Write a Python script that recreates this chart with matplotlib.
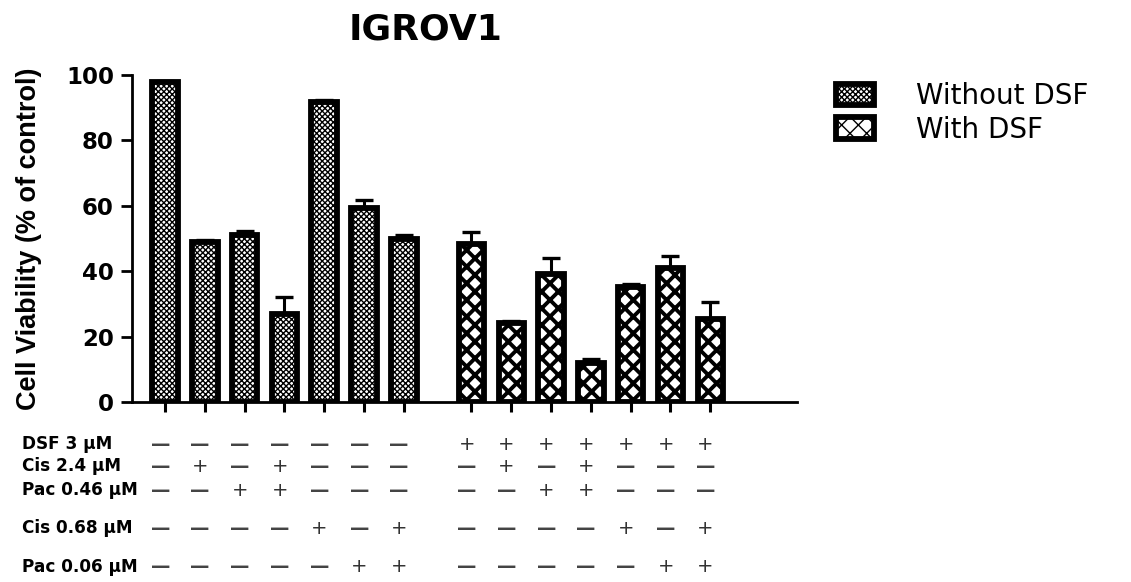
import numpy as np
import matplotlib
matplotlib.use("Agg")
import matplotlib.pyplot as plt
from matplotlib.transforms import blended_transform_factory

# values
without_dsf = [97.8, 49.0, 51.2, 27.0, 91.8, 59.4, 49.8]
without_err = [0.5, 0.6, 1.0, 5.0, 0.7, 2.4, 1.2]
with_dsf = [48.3, 24.3, 39.0, 12.0, 35.2, 41.0, 25.5]
with_err = [3.8, 0.6, 5.0, 1.0, 1.0, 3.5, 5.0]

treatments = ["DSF 3 \u03bcM", "Cis 2.4 \u03bcM", "Pac 0.46 \u03bcM", "Cis 0.68 \u03bcM", "Pac 0.06 \u03bcM"]
dsf_3 = "-------" + "+++++++"
cis_24 = "-+-+---" + "-+-+---"
pac_046 = "--++---" + "--++---"
cis_068 = "----+-+" + "----+-+"
pac_006 = "-----++" + "-----++"
table = [dsf_3, cis_24, pac_046, cis_068, pac_006]


def main():
    fig = plt.figure(figsize=(11.31, 5.82), dpi=100)
    ax = fig.add_axes([132 / 1131, 1 - 402 / 582, 665 / 1131, 327 / 582])

    x1 = np.arange(7)
    x2 = np.arange(7) + 7.7
    width = 0.64

    b1 = ax.bar(x1, without_dsf, width, color="white", edgecolor="black",
                linewidth=4.2, hatch="xxxxxx", label="Without DSF", zorder=2)
    b2 = ax.bar(x2, with_dsf, width, color="white", edgecolor="black",
                linewidth=4.2, hatch="xx", label="With DSF", zorder=2)
    for p in b1:
        if hasattr(p, "set_hatch_linewidth"):
            p.set_hatch_linewidth(1.0)
    for p in b2:
        if hasattr(p, "set_hatch_linewidth"):
            p.set_hatch_linewidth(2.8)

    ax.errorbar(x1, without_dsf, yerr=[np.zeros(7), without_err], fmt="none",
                ecolor="black", elinewidth=2.2, capsize=6.5, capthick=2.4, zorder=1)
    ax.errorbar(x2, with_dsf, yerr=[np.zeros(7), with_err], fmt="none",
                ecolor="black", elinewidth=2.2, capsize=6.5, capthick=2.4, zorder=1)

    ax.set_xlim(-0.83, 15.88)
    ax.set_ylim(0, 100)
    ax.set_yticks([0, 20, 40, 60, 80, 100])
    ax.set_xticks(np.concatenate([x1, x2]))
    ax.set_xticklabels([])
    ax.spines["top"].set_visible(False)
    ax.spines["right"].set_visible(False)
    ax.spines["left"].set_linewidth(2.0)
    ax.spines["bottom"].set_linewidth(2.0)
    ax.tick_params(axis="y", length=8, width=2.0, pad=5)
    ax.tick_params(axis="x", length=7, width=2.2)
    for lab in ax.get_yticklabels():
        lab.set_fontsize(16.5)
        lab.set_fontweight("bold")
        lab.set_family("DejaVu Sans")

    fig.text(29 / 1131, 1 - 239 / 582, "Cell Viability (% of control)",
             rotation=90, ha="center", va="center", fontsize=19.5,
             fontweight="bold", family="Liberation Sans")
    fig.text(426 / 1131, 1 - 39 / 582, "IGROV1", ha="center", va="baseline",
             fontsize=26, fontweight="bold", family="DejaVu Sans")

    leg = fig.legend(handles=[b1, b2], loc="upper left",
                     bbox_to_anchor=(836 / 1131, 1 - 82 / 582),
                     frameon=False, fontsize=20, handlelength=1.37,
                     handleheight=0.8, handletextpad=1.5, labelspacing=0.2,
                     borderpad=0, borderaxespad=0)
    for t in leg.get_texts():
        t.set_family("DejaVu Sans")

    # treatment table below the axis
    rows_y = [444, 466, 490, 528, 567]
    tr = blended_transform_factory(ax.transData, fig.transFigure)
    xs = np.concatenate([x1, x2]) - 0.12
    for name, signs, yy in zip(treatments, table, rows_y):
        fig.text(22 / 1131, 1 - yy / 582, name, ha="left", va="center",
                 fontsize=12.2, fontweight="bold", family="DejaVu Sans")
        for xx, s in zip(xs, signs):
            if s == "+":
                ax.text(xx, 1 - yy / 582, "+", transform=tr, ha="center",
                        va="center", fontsize=14, color="#333333",
                        family="DejaVu Sans")
            else:
                ax.text(xx, 1 - yy / 582, "\u2014", transform=tr, ha="center",
                        va="center", fontsize=14, color="#444444",
                        fontweight="bold", family="DejaVu Sans")

    fig.savefig("out.png", dpi=100)


if __name__ == "__main__":
    main()
